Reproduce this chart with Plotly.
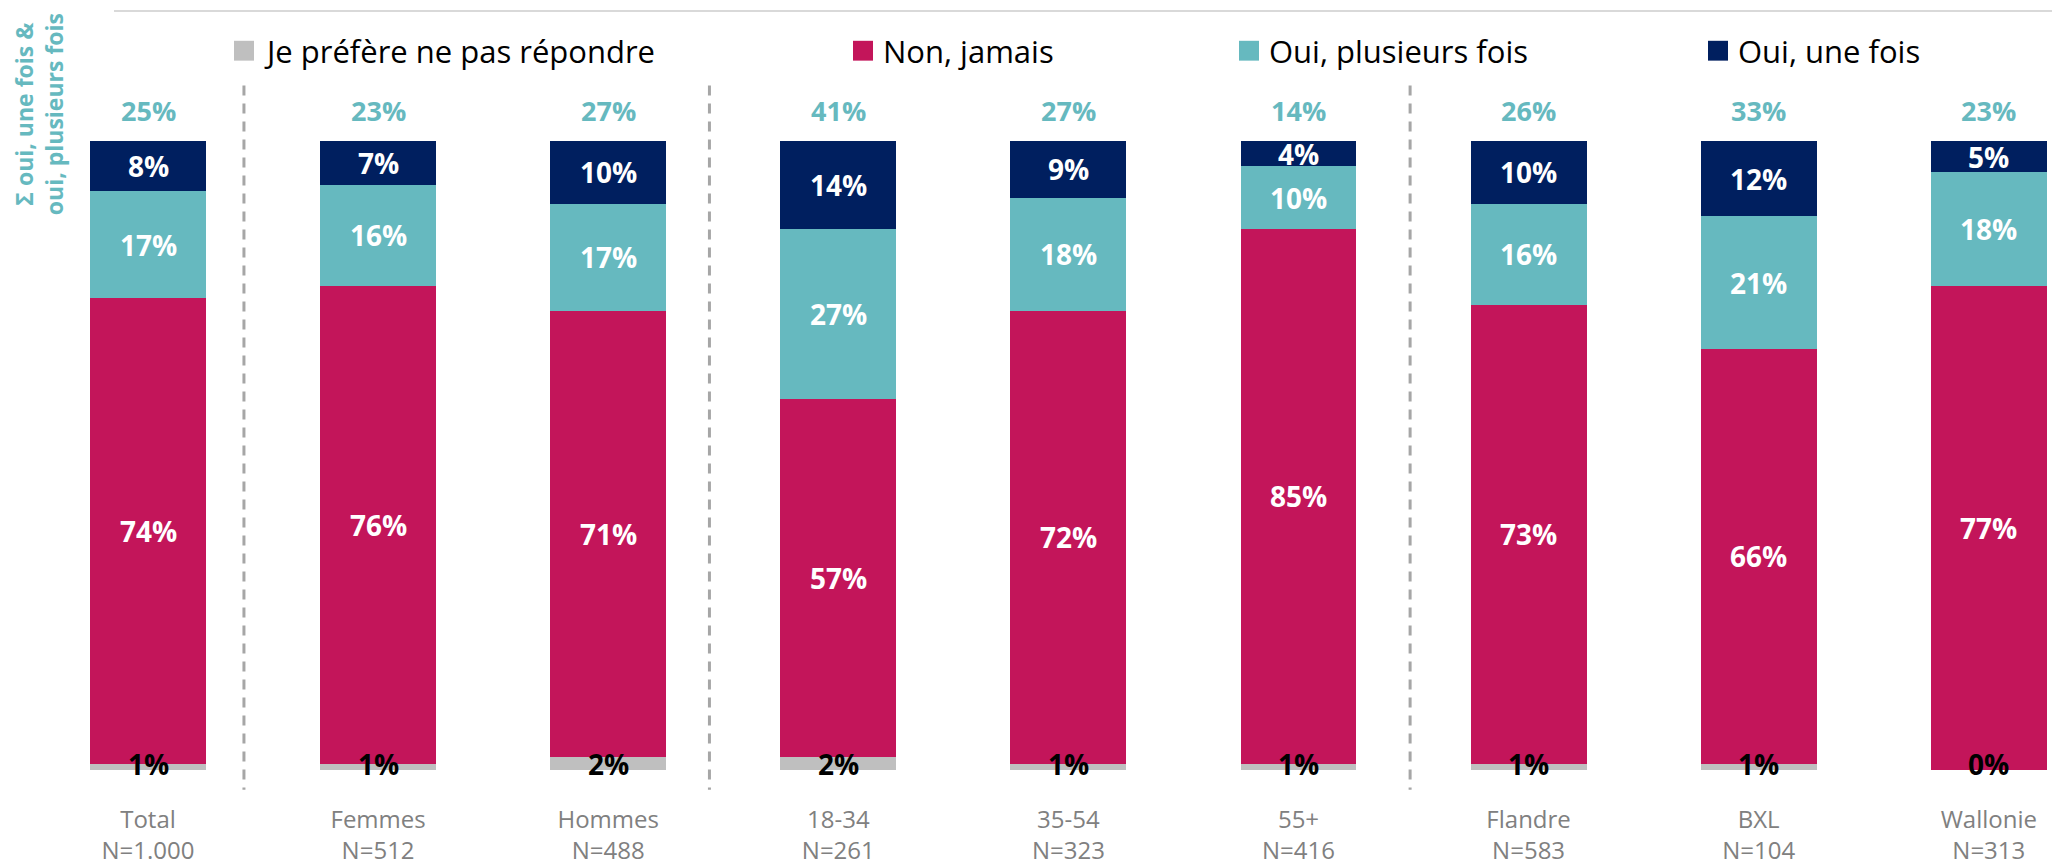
import plotly.graph_objects as go

# ---------------- data ----------------
categories = ["Total<br>N=1.000", "Femmes<br>N=512", "Hommes<br>N=488",
              "18-34<br>N=261", "35-54<br>N=323", "55+<br>N=416",
              "Flandre<br>N=583", "BXL<br>N=104", "Wallonie<br>N=313"]
pref_pas_repondre = [1, 1, 2, 2, 1, 1, 1, 1, 0]
non_jamais = [74, 76, 71, 57, 72, 85, 73, 66, 77]
oui_plusieurs = [17, 16, 17, 27, 18, 10, 16, 21, 18]
oui_une = [8, 7, 10, 14, 9, 4, 10, 12, 5]
somme_oui = [25, 23, 27, 41, 27, 14, 26, 33, 23]
series_names = ["Je préfère ne pas répondre", "Non, jamais",
                "Oui, plusieurs fois", "Oui, une fois"]
axis_title = "Σ oui, une fois &<br>oui, plusieurs fois"

# ---------------- style ----------------
colors = ["#BFBFBF", "#C3155A", "#66B9BF", "#001F5F"]
label_colors = ["#000000", "#FFFFFF", "#FFFFFF", "#FFFFFF"]
TEAL = "#66B9BF"
OFF = 8  # page body margin of the html
W, H = 2060 - 2 * OFF, 866 - OFF
# target positions below are page pixels; convert with OFF
L, R, T, B = 40 - OFF, 0, 141 - OFF, 866 - 775
PW, PH = W - L - R, H - T - B
STEP = 230.1
FIRST_CENTER = 148 - OFF
x0 = -(FIRST_CENTER - L) / STEP
x1 = x0 + PW / STEP


def px(xp):
    return (xp - OFF - L) / PW


def py(yp):
    return (H - B - (yp - OFF)) / PH


series = [pref_pas_repondre, non_jamais, oui_plusieurs, oui_une]
xs = list(range(len(categories)))

fig = go.Figure()
for name, vals, col in zip(series_names, series, colors):
    fig.add_trace(go.Bar(
        x=xs, y=vals, name=name, marker=dict(color=col, line=dict(width=0)),
        width=0.504, showlegend=False, hoverinfo="skip"))

annotations = []
# segment labels
base = [0] * len(categories)
for si, vals in enumerate(series):
    for i, v in enumerate(vals):
        mid = base[i] + v / 2
        if si == 0:
            ypos, ysh = base[i], 6   # small bottom segment: label sits on the baseline
        else:
            ypos, ysh = mid, 0
        annotations.append(dict(
            x=i, y=ypos, xref="x", yref="y", text=f"{v}%", showarrow=False,
            yshift=ysh,
            font=dict(family="Open Sans", size=28, color=label_colors[si], weight="bold"),
            xanchor="center", yanchor="middle"))
        base[i] += v
# sum labels above bars
for i, s in enumerate(somme_oui):
    annotations.append(dict(
        x=i, y=base[i], xref="x", yref="y", text=f"{s}%", showarrow=False,
        yshift=31, font=dict(family="Open Sans", size=27, color=TEAL, weight="bold"),
        xanchor="center", yanchor="middle"))

# custom legend
legend_sq = [234, 853, 1239, 1708]
for name, col, sx in zip(series_names, colors, legend_sq):
    annotations.append(dict(
        x=px(sx + 28), y=py(50), xref="paper", yref="paper", text=name,
        showarrow=False, xanchor="left", yanchor="middle",
        font=dict(family="Open Sans", size=31, color="#000000")))

# rotated axis title
annotations.append(dict(
    x=px(39), y=py(114), xref="paper", yref="paper", text=axis_title,
    showarrow=False, textangle=-90, xanchor="center", yanchor="middle",
    font=dict(family="Open Sans", size=23, color=TEAL, weight="bold")))

shapes = []
for name, col, sx in zip(series_names, colors, legend_sq):
    shapes.append(dict(type="rect", xref="paper", yref="paper",
                       x0=px(sx), x1=px(sx + 20), y0=py(60), y1=py(40),
                       fillcolor=col, line=dict(width=0)))
# top rule
shapes.append(dict(type="line", xref="paper", yref="paper",
                   x0=px(114), x1=px(2052), y0=py(10), y1=py(10),
                   line=dict(color="#D9D9D9", width=2)))
# dashed separators
for sxp in [0.417, 2.44, 5.485]:
    shapes.append(dict(type="line", xref="x", yref="paper",
                       x0=sxp, x1=sxp, y0=py(85), y1=py(795),
                       line=dict(color="#A6A6A6", width=3, dash="10px,8px")))

fig.update_layout(
    width=W, height=H,
    barmode="stack",
    margin=dict(l=L, r=R, t=T, b=B, pad=0),
    paper_bgcolor="white", plot_bgcolor="white",
    annotations=annotations, shapes=shapes,
    showlegend=False,
    xaxis=dict(range=[x0, x1], tickmode="array", tickvals=xs, ticktext=categories,
               showgrid=False, zeroline=False, showline=False,
               ticks="outside", ticklen=28, tickcolor="rgba(0,0,0,0)",
               tickfont=dict(family="Open Sans", size=24, color="#808080")),
    yaxis=dict(range=[0, 100], visible=False, showgrid=False, zeroline=False),
)

fig.write_html("out.html")
